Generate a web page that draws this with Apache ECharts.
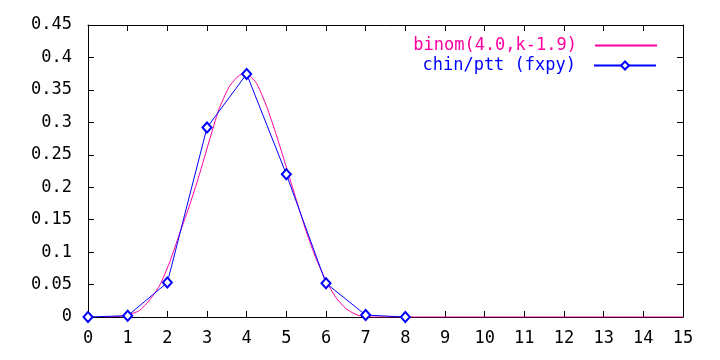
<!DOCTYPE html>
<html>
<head>
<meta charset="utf-8">
<script src="https://cdn.jsdelivr.net/npm/echarts@6/dist/echarts.min.js"></script>
<style>html,body{margin:0;padding:0;background:#fff}#c{width:720px;height:360px}</style>
</head>
<body>
<div id="c"></div>
<script>
// Series names
var curveName = 'binom(4.0,k-1.9)';
var pointsName = 'chin/ptt (fxpy)';
// Smooth curve
var curveX = [0.4, 0.8, 1.0, 1.3, 1.55, 1.8, 2.05, 2.3, 2.55, 2.8, 3.05, 3.3, 3.55, 3.75, 3.9, 4.05, 4.25, 4.5, 4.75, 5.0, 5.25, 5.5, 5.75, 6.0, 6.25, 6.5, 6.75, 7.0, 15];
var curveY = [0, 0.001, 0.003, 0.010, 0.026, 0.048, 0.083, 0.127, 0.170, 0.218, 0.270, 0.320, 0.354, 0.369, 0.375, 0.373, 0.360, 0.325, 0.280, 0.231, 0.181, 0.132, 0.090, 0.056, 0.030, 0.013, 0.004, 0, 0];
// Measured points
var pointX = [0, 1, 2, 3, 4, 5, 6, 7, 8];
var pointY = [0, 0.002, 0.053, 0.292, 0.3745, 0.220, 0.052, 0.003, 0];

var pink = '#ff00a0', blue = '#0000ff';
var font = 'DejaVu Sans Mono';

function pairs(xs, ys) { return xs.map(function (x, i) { return [x, ys[i]]; }); }

var chart = echarts.init(document.getElementById('c'), null, {renderer: 'canvas'});
var axLine = {show: true, onZero: false, lineStyle: {color: '#000', width: 1}};
var tick = {show: true, inside: true, length: 6, lineStyle: {color: '#000', width: 1}};
var lbl = {color: '#000', fontFamily: font, fontSize: 17};
chart.setOption({
  animation: false,
  backgroundColor: '#fff',
  grid: {left: 88, right: 37, top: 25, bottom: 43, show: false},
  xAxis: [
    {type: 'value', min: 0, max: 15, interval: 1, position: 'bottom', axisLine: axLine, axisTick: tick, splitLine: {show: false}, axisLabel: Object.assign({margin: 13}, lbl)},
    {type: 'value', min: 0, max: 15, interval: 1, position: 'top', axisLine: axLine, axisTick: tick, splitLine: {show: false}, axisLabel: {show: false}}
  ],
  yAxis: [
    {type: 'value', min: 0, max: 0.45, interval: 0.05, position: 'left', axisLine: axLine, axisTick: tick, splitLine: {show: false}, axisLabel: Object.assign({margin: 16}, lbl)},
    {type: 'value', min: 0, max: 0.45, interval: 0.05, position: 'right', axisLine: axLine, axisTick: tick, splitLine: {show: false}, axisLabel: {show: false}}
  ],
  legend: [
    {data: [{name: curveName, textStyle: {color: pink}}], orient: 'vertical', align: 'right', right: 63, top: 37, padding: 0,
     icon: 'rect', itemWidth: 62, itemHeight: 2, textStyle: {fontFamily: font, fontSize: 17, padding: [0, 13, 0, 0]}},
    {data: [{name: pointsName, textStyle: {color: blue}}], orient: 'vertical', align: 'right', right: 63, top: 57, padding: 0,
     itemWidth: 62, itemHeight: 10, textStyle: {fontFamily: font, fontSize: 17, padding: [0, 13, 0, 0]}}
  ],
  series: [
    {name: curveName, type: 'line', data: pairs(curveX, curveY), smooth: 0.2, symbol: 'none', showSymbol: false,
     lineStyle: {color: pink, width: 1}, itemStyle: {color: pink}, z: 2},
    {name: pointsName, type: 'line', data: pairs(pointX, pointY), symbol: 'emptyDiamond', symbolSize: [9, 10],
     lineStyle: {color: blue, width: 1}, itemStyle: {color: blue, borderColor: blue, borderWidth: 1}, z: 3}
  ]
});
</script>
</body>
</html>
